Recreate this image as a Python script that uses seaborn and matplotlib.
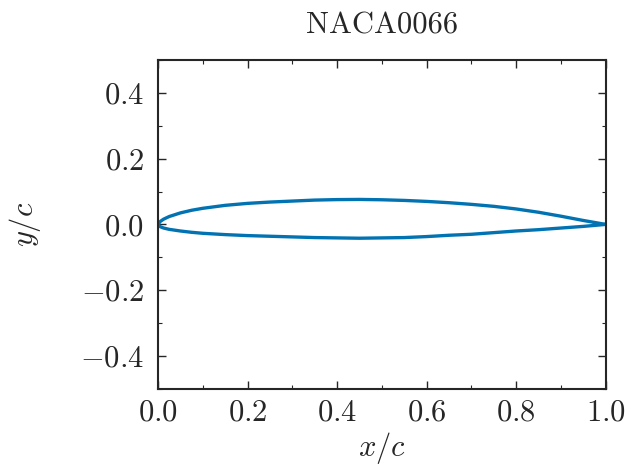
import matplotlib
matplotlib.use("Agg")
import matplotlib.pyplot as plt
import seaborn as sns
import pandas as pd
from matplotlib.ticker import MultipleLocator

# Airfoil section coordinates (chord-normalised), trailing edge -> leading edge -> trailing edge
x_upper = [1.0, 0.95, 0.9, 0.85, 0.8, 0.75, 0.7, 0.65, 0.6, 0.55, 0.5, 0.45, 0.4,
           0.35, 0.3, 0.25, 0.2, 0.15, 0.1, 0.075, 0.05, 0.025, 0.0125, 0.005, 0.0]
y_upper = [0.0, 0.012, 0.025, 0.037, 0.047, 0.055, 0.061, 0.066, 0.070, 0.073, 0.075,
           0.076, 0.0755, 0.074, 0.071, 0.068, 0.064, 0.058, 0.049, 0.043, 0.035, 0.024,
           0.016, 0.009, 0.0]
x_lower = [0.005, 0.0125, 0.025, 0.05, 0.075, 0.1, 0.15, 0.2, 0.25, 0.3, 0.35, 0.4,
           0.45, 0.5, 0.55, 0.6, 0.65, 0.7, 0.75, 0.8, 0.85, 0.9, 0.95, 1.0]
y_lower = [-0.007, -0.011, -0.015, -0.020, -0.024, -0.027, -0.031, -0.034, -0.036,
           -0.038, -0.040, -0.041, -0.042, -0.041, -0.040, -0.037, -0.033, -0.030,
           -0.025, -0.020, -0.016, -0.011, -0.006, 0.0]

airfoil_name = "NACA0066"

sns.set_style("ticks")
plt.rcParams.update({
    "font.family": "serif",
    "font.serif": ["cmr10"],
    "mathtext.fontset": "cm",
    "axes.formatter.use_mathtext": True,
    "axes.unicode_minus": True,
    "xtick.direction": "in",
    "ytick.direction": "in",
    "xtick.top": True,
    "ytick.right": True,
    "xtick.major.size": 6,
    "ytick.major.size": 6,
    "xtick.minor.size": 3,
    "ytick.minor.size": 3,
    "axes.linewidth": 1.5,
    "xtick.major.width": 1.0,
    "ytick.major.width": 1.0,
    "xtick.minor.width": 0.8,
    "ytick.minor.width": 0.8,
})

df = pd.DataFrame({"x": x_upper + x_lower, "y": y_upper + y_lower})

fig = plt.figure(figsize=(6.27, 4.69), dpi=100)
ax = fig.add_axes([0.252, 0.171, 0.714, 0.701])
sns.lineplot(data=df, x="x", y="y", sort=False, estimator=None,
             color="#0173B2", linewidth=2.4, ax=ax)

ax.set_xlim(0.0, 1.0)
ax.set_ylim(-0.5, 0.5)
ax.xaxis.set_major_locator(MultipleLocator(0.2))
ax.xaxis.set_minor_locator(MultipleLocator(0.1))
ax.yaxis.set_major_locator(MultipleLocator(0.2))
ax.yaxis.set_minor_locator(MultipleLocator(0.1))
ax.tick_params(axis="x", labelsize=22, pad=7.5)
ax.tick_params(axis="y", labelsize=22, pad=10)
ax.set_xlabel(r"$x/c$", fontsize=22, labelpad=2.5)
ax.set_ylabel(r"$y/c$", fontsize=22, labelpad=27)
ax.set_title(airfoil_name, fontsize=22, pad=19)

fig.savefig("out.png", dpi=100)
